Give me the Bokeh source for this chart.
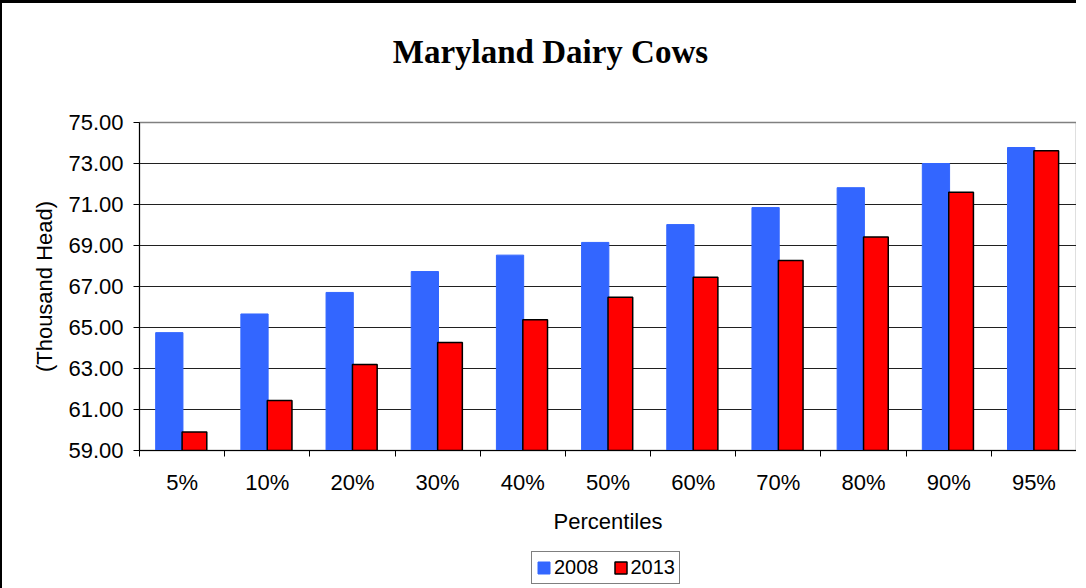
from bokeh.plotting import figure
from bokeh.layouts import column
from bokeh.models import (FixedTicker, NumeralTickFormatter, Legend, LegendItem,
                          Range1d, ColumnDataSource, Label)
from bokeh.transform import dodge
from bokeh.embed import file_html
from bokeh.resources import INLINE

title_text = "Maryland Dairy Cows"
categories = ["5%", "10%", "20%", "30%", "40%", "50%", "60%", "70%", "80%", "90%", "95%"]
y2008 = [64.75, 65.66, 66.71, 67.73, 68.53, 69.15, 70.02, 70.85, 71.82, 73.00, 73.78]
y2013 = [59.90, 61.44, 63.20, 64.27, 65.38, 66.48, 67.45, 68.27, 69.41, 71.60, 73.62]
y_ticks = [59, 61, 63, 65, 67, 69, 71, 73, 75]
series_names = ["2008", "2013"]

BLUE, RED = "#3366FF", "#FF0000"
SANS = "Liberation Sans"

x = list(range(len(categories)))
src = ColumnDataSource(dict(x=x, y2008=y2008, y2013=y2013))


def strip(height, border):
    f = figure(width=1076, height=height, x_range=Range1d(0, 1), y_range=Range1d(0, 1),
               output_backend="svg", toolbar_location=None,
               x_axis_location=None, y_axis_location=None,
               min_border_left=0, min_border_right=0, min_border_top=0, min_border_bottom=0)
    f.styles = border
    f.outline_line_color = None
    f.xgrid.visible = False
    f.ygrid.visible = False
    return f


# ---- title strip
p0 = strip(96, {"border-top": "3px solid black", "border-left": "2px solid black"})
p0.add_layout(Label(x=0.4386, y=0.5, text=title_text, text_align="center",
                    text_baseline="middle", text_font="Liberation Serif",
                    text_font_size="33px", text_font_style="bold", text_color="#000000"))

# ---- chart
p = figure(width=1076, height=447, x_range=Range1d(-0.5, len(categories) - 0.5),
           y_range=Range1d(y_ticks[0], y_ticks[-1]),
           output_backend="svg", toolbar_location=None,
           min_border_left=137, min_border_right=2, min_border_top=26,
           min_border_bottom=93)
p.styles = {"border-left": "2px solid black"}

p.vbar(x=dodge("x", -0.15, range=p.x_range), top="y2008", bottom=y_ticks[0], width=0.32,
       source=src, fill_color=BLUE, line_color=BLUE, line_width=1)
p.vbar(x=dodge("x", 0.145, range=p.x_range), top="y2013", bottom=y_ticks[0], width=0.29,
       source=src, fill_color=RED, line_color="#000000", line_width=1.5)

p.outline_line_color = "#808080"
p.outline_line_width = 1.5
p.xgrid.visible = False
p.ygrid.ticker = FixedTicker(ticks=y_ticks)
p.ygrid.grid_line_color = "#202020"
p.ygrid.grid_line_width = 1

# y axis
p.yaxis.ticker = FixedTicker(ticks=y_ticks)
p.yaxis.formatter = NumeralTickFormatter(format="0.00")
p.yaxis.axis_label = "(Thousand Head)"
p.yaxis.axis_label_text_font = SANS
p.yaxis.axis_label_text_font_size = "22px"
p.yaxis.axis_label_text_font_style = "normal"
p.yaxis.axis_label_text_color = "#000000"
p.yaxis.axis_label_standoff = 8
p.yaxis.major_label_text_font = SANS
p.yaxis.major_label_text_font_size = "22px"
p.yaxis.major_label_text_color = "#000000"
p.yaxis.major_label_standoff = 10
p.yaxis.major_tick_out = 6
p.yaxis.major_tick_in = 0
p.yaxis.minor_tick_out = 0
p.yaxis.minor_tick_in = 0
p.yaxis.axis_line_color = "#000000"
p.yaxis.major_tick_line_color = "#000000"

# x axis (ticks at category boundaries, labels at centres)
p.xaxis.ticker = FixedTicker(ticks=x, minor_ticks=[i - 0.5 for i in range(len(categories) + 1)])
p.xaxis.major_label_overrides = {i: c for i, c in enumerate(categories)}
p.xaxis.axis_label = "Percentiles"
p.xaxis.axis_label_text_font = SANS
p.xaxis.axis_label_text_font_size = "22px"
p.xaxis.axis_label_text_font_style = "normal"
p.xaxis.axis_label_text_color = "#000000"
p.xaxis.axis_label_standoff = 11
p.xaxis.major_label_text_font = SANS
p.xaxis.major_label_text_font_size = "22px"
p.xaxis.major_label_text_color = "#000000"
p.xaxis.major_label_standoff = 13
p.xaxis.major_tick_out = 0
p.xaxis.major_tick_in = 0
p.xaxis.minor_tick_out = 6
p.xaxis.minor_tick_in = 0
p.xaxis.minor_tick_line_color = "#000000"
p.xaxis.axis_line_color = "#000000"

# ---- legend strip (series renderers hidden; legend shows their swatches)
p2 = strip(45, {"border-left": "2px solid black"})
r1 = p2.vbar(x="x", top="y2008", bottom=y_ticks[0], width=0.3, source=src,
             fill_color=BLUE, line_color=BLUE, visible=False)
r2 = p2.vbar(x="x", top="y2013", bottom=y_ticks[0], width=0.3, source=src,
             fill_color=RED, line_color="#000000", line_width=1.5, visible=False)

legend = Legend(items=[LegendItem(label=series_names[0], renderers=[r1], index=0),
                       LegendItem(label=series_names[1], renderers=[r2], index=0)],
                orientation="horizontal", location=(392, 4))
legend.label_text_font = SANS
legend.label_text_font_size = "20px"
legend.label_text_color = "#000000"
legend.glyph_width = 15
legend.glyph_height = 15
legend.label_standoff = 3
legend.spacing = 14
legend.padding = 4
legend.margin = 0
legend.border_line_color = "#000000"
legend.border_line_width = 1
legend.inactive_fill_alpha = 0
p2.add_layout(legend, "center")

layout = column(p0, p, p2, spacing=0)
open("out.html", "w").write(file_html(layout, INLINE))
